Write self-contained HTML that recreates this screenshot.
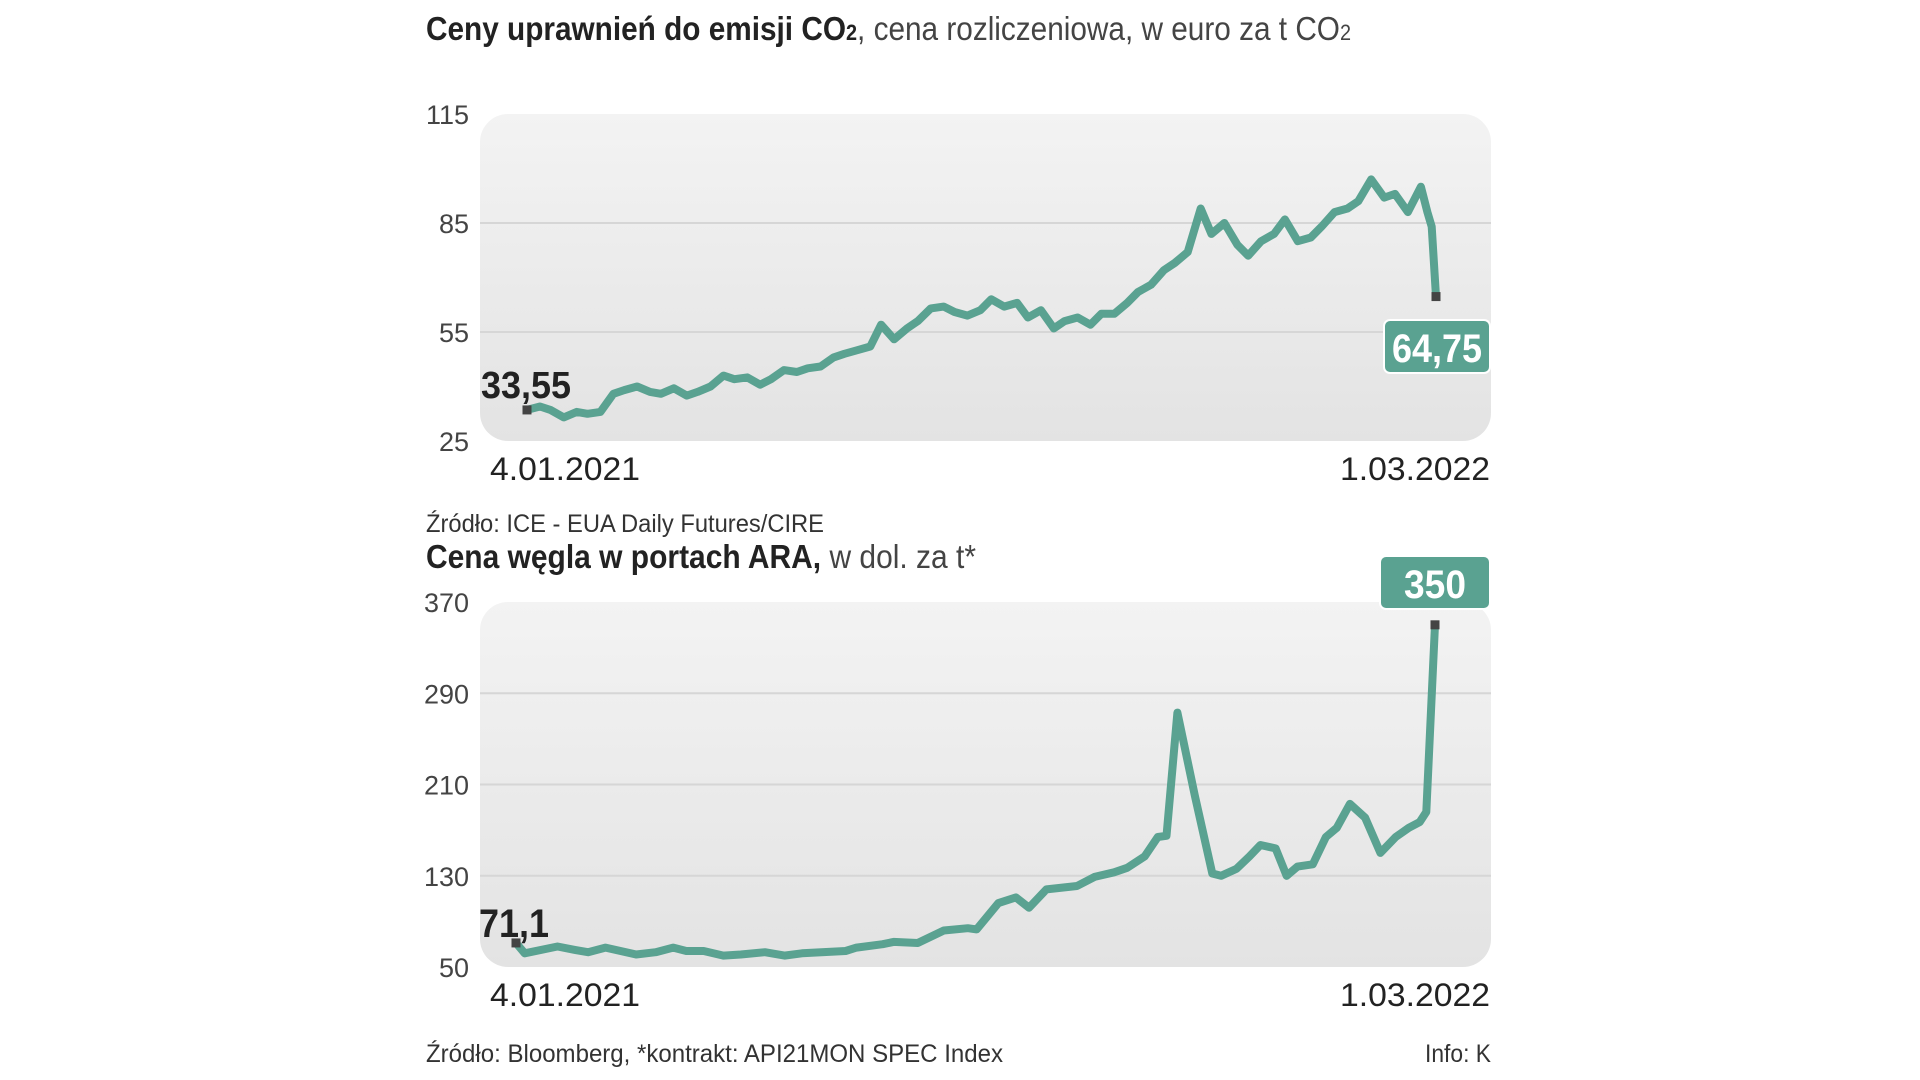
<!DOCTYPE html>
<html><head><meta charset="utf-8">
<style>
html,body{margin:0;padding:0;background:#fff;}
svg{display:block;}
text{font-family:"Liberation Sans Narrow","Liberation Sans",sans-serif;}
</style></head>
<body>
<svg id="root" width="1920" height="1080" viewBox="0 0 1920 1080">
<defs>
<linearGradient id="bg" x1="0" y1="0" x2="0" y2="1">
<stop offset="0" stop-color="#f3f3f3"/><stop offset="1" stop-color="#e3e3e3"/>
</linearGradient>
</defs>
<g>
<text x="426" y="40" font-size="33" fill="#222" textLength="925" lengthAdjust="spacingAndGlyphs"><tspan font-weight="bold">Ceny uprawnień do emisji CO</tspan><tspan font-weight="bold" font-size="22">2</tspan><tspan fill="#444">, cena rozliczeniowa, w euro za t CO</tspan><tspan fill="#444" font-size="22">2</tspan></text>
</g>
<rect x="480" y="114" width="1011" height="327" rx="28" fill="url(#bg)"/>
<g id="co2grid"></g>
<g id="co2ticks"></g>
<path id="co2line" fill="none" stroke="#5aa291" stroke-width="8" stroke-linejoin="round" stroke-linecap="round"/>
<rect id="co2m0" width="9" height="9" fill="#444"/>
<rect id="co2m1" width="9" height="9" fill="#444"/>
<text x="481" y="398" font-size="38" font-weight="bold" fill="#222" textLength="90" lengthAdjust="spacingAndGlyphs">33,55</text>
<g>
<rect x="1384" y="320" width="106" height="53" rx="6" fill="#5aa291" stroke="#fff" stroke-width="2"/>
<text x="1437" y="362" font-size="40" font-weight="bold" fill="#fff" text-anchor="middle" textLength="90" lengthAdjust="spacingAndGlyphs">64,75</text>
</g>
<text x="490" y="480" font-size="32" fill="#222" textLength="150" lengthAdjust="spacingAndGlyphs">4.01.2021</text>
<text x="1490" y="480" font-size="32" fill="#222" text-anchor="end" textLength="150" lengthAdjust="spacingAndGlyphs">1.03.2022</text>
<text x="426" y="532" font-size="25" fill="#333" textLength="398" lengthAdjust="spacingAndGlyphs">Źródło: ICE - EUA Daily Futures/CIRE</text>

<text x="426" y="568" font-size="33" fill="#222" textLength="550" lengthAdjust="spacingAndGlyphs"><tspan font-weight="bold">Cena węgla w portach ARA,</tspan><tspan fill="#444"> w dol. za t*</tspan></text>
<rect x="480" y="602" width="1011" height="365" rx="28" fill="url(#bg)"/>
<g id="coalgrid"></g>
<g id="coalticks"></g>
<path id="coalline" fill="none" stroke="#5aa291" stroke-width="8" stroke-linejoin="round" stroke-linecap="round"/>
<rect id="coalm0" width="9" height="9" fill="#444"/>
<rect id="coalm1" width="9" height="9" fill="#444"/>
<text x="479" y="937" font-size="40" font-weight="bold" fill="#222" textLength="70" lengthAdjust="spacingAndGlyphs">71,1</text>
<g>
<rect x="1380" y="556" width="110" height="53" rx="6" fill="#5aa291" stroke="#fff" stroke-width="2"/>
<text x="1435" y="598" font-size="40" font-weight="bold" fill="#fff" text-anchor="middle" textLength="62" lengthAdjust="spacingAndGlyphs">350</text>
</g>
<text x="490" y="1006" font-size="32" fill="#222" textLength="150" lengthAdjust="spacingAndGlyphs">4.01.2021</text>
<text x="1490" y="1006" font-size="32" fill="#222" text-anchor="end" textLength="150" lengthAdjust="spacingAndGlyphs">1.03.2022</text>
<text x="426" y="1062" font-size="25" fill="#333" textLength="577" lengthAdjust="spacingAndGlyphs">Źródło: Bloomberg, *kontrakt: API21MON SPEC Index</text>
<text x="1491" y="1062" font-size="25" fill="#333" text-anchor="end" textLength="66" lengthAdjust="spacingAndGlyphs">Info: K</text>
</svg>
<script>
const co2Days = [0,6,11,17,23,28,34,40,45,51,57,62,68,74,79,85,91,96,102,108,113,119,125,130,136,142,147,153,159,164,170,176,181,187,193,198,204,210,215,221,227,232,238,244,249,255,261,266,272,278,283,289,295,300,306,312,317,323,329,334,340,346,351,357,363,368,374,380,385,391,397,402,408,414,417,419,421];
const co2Values = [33.55,34.5,33.5,31.5,33,32.5,33,38,39,40,38.5,38,39.5,37.5,38.5,40,43,42,42.5,40.5,42,44.5,44,45,45.5,48,49,50,51,57,53,56,58,61.5,62,60.5,59.5,61,64,62,63,59,61,56,58,59,57,60,60,63,66,68,72,74,77,89,82,85,79,76,80,82,86,80,81,84,88,89,91,97,92,93,88,95,88,84,64.75];
const co2Ticks = [25,55,85,115];
const coalDays = [0,4,19,27,33,41,55,64,72,78,86,95,103,114,123,131,151,156,168,173,184,196,207,211,221,229,235,243,257,265,274,280,288,294,298,303,311,319,323,330,336,341,348,353,358,365,371,376,382,389,396,403,409,414,417,421];
const coalValues = [71.1,62,68,65,63,67,61,63,67,64,64,60,61,63,60,62,64,67,70,72,71,82,84,83,106,111,102,118,121,129,133,137,147,164,165,273,200,132,130,136,147,157,154,130,138,140,164,172,193,181,150,164,172,177,186,350];
const coalTicks = [50,130,210,290,370];

const NS='http://www.w3.org/2000/svg';
function drawChart(pre, days, vals, ticks, box){
  const xs = d => box.x0 + d/421*(box.x1-box.x0);
  const ys = v => box.yb - (v-ticks[0])/(ticks[ticks.length-1]-ticks[0])*(box.yb-box.yt);
  const grid=document.getElementById(pre+'grid'), tk=document.getElementById(pre+'ticks');
  ticks.forEach((t,i)=>{
    if(i>0 && i<ticks.length-1){
      const l=document.createElementNS(NS,'line');
      
      
      l.setAttribute('x1',480);l.setAttribute('x2',1491);
      l.setAttribute('y1',ys(t));l.setAttribute('y2',ys(t));
      l.setAttribute('stroke','#d6d6d6');l.setAttribute('stroke-width','2');
      grid.appendChild(l);
    }
    const tx=document.createElementNS(NS,'text');
    
    
    tx.setAttribute('x',469);tx.setAttribute('y',ys(t)+10);
    tx.setAttribute('text-anchor','end');tx.setAttribute('font-size','27');tx.setAttribute('fill','#444');
    tx.textContent=t;tk.appendChild(tx);
  });
  let d='';
  days.forEach((dd,i)=>{d+=(i?'L':'M')+xs(dd).toFixed(1)+' '+ys(vals[i]).toFixed(1);});
  document.getElementById(pre+'line').setAttribute('d',d);
  const m0=document.getElementById(pre+'m0'),m1=document.getElementById(pre+'m1');
  m0.setAttribute('x',xs(days[0])-4.5);m0.setAttribute('y',ys(vals[0])-4.5);
  m1.setAttribute('x',xs(days[days.length-1])-4.5);m1.setAttribute('y',ys(vals[vals.length-1])-4.5);
}
drawChart('co2',co2Days,co2Values,co2Ticks,{x0:527,x1:1436,yt:114,yb:441});
drawChart('coal',coalDays,coalValues,coalTicks,{x0:516,x1:1435,yt:602,yb:967});
</script>
</body></html>
